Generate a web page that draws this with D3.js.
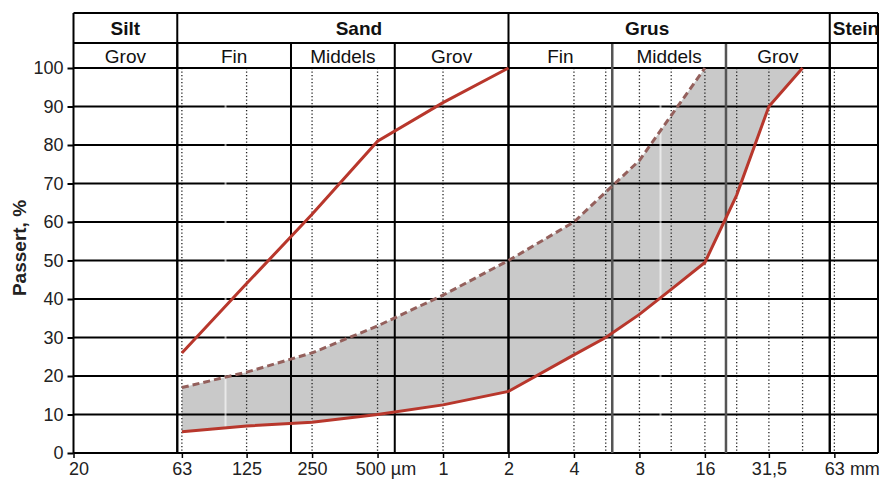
<!DOCTYPE html>
<html>
<head>
<meta charset="utf-8">
<style>
  body { margin: 0; background: #fff; font-family: "Liberation Sans", Arial, sans-serif; }
  svg { display: block; }
  .tick text { font-family: "Liberation Sans", Arial, sans-serif; }
</style>
<script src="https://cdn.jsdelivr.net/npm/d3@7"></script>
</head>
<body>
<svg id="chart"></svg>
<script>
// sieve sizes in micrometres, passing in %
const fineSizes = [63, 125, 250, 500, 1000, 2000];
const fineValues = [26, 44, 62, 81, 91, 100];

const dashSizes = [63, 125, 250, 500, 1000, 2000, 4000, 8000, 16000];
const dashValues = [17, 21, 26, 33, 41, 50, 60, 76, 100];

const coarseSizes = [63, 125, 250, 500, 1000, 2000, 4000, 5600, 8000, 11200, 16000, 22400, 31500, 45000];
const coarseValues = [5.5, 7, 8, 10, 12.5, 16, 25.5, 30, 36, 42.5, 49.5, 67, 90, 100];

const xTicks = [20, 63, 125, 250, 500, 1000, 2000, 4000, 8000, 16000, 31500, 63000];
const xLabels = ["20", "63", "125", "250", "500 \u00b5m", "1", "2", "4", "8", "16", "31,5", "63 mm"];
const yTicks = [0, 10, 20, 30, 40, 50, 60, 70, 80, 90, 100];

const sieveLines = [63, 125, 250, 500, 1000, 4000, 5600, 8000, 11200, 16000, 22400, 31500, 45000, 63000];

// soil classes (limits in micrometres)
const mainClasses = ["Silt", "Sand", "Grus", "Stein"];
const mainLimits = [20, 60, 2000, 60000, 100000];
const subClasses = ["Grov", "Fin", "Middels", "Grov", "Fin", "Middels", "Grov", ""];
const subLimits = [20, 60, 200, 600, 2000, 6000, 20000, 60000, 100000];

const width = 885, height = 483;
const svg = d3.select("#chart").attr("width", width).attr("height", height);

const x = d3.scaleLog().domain([20, 100000]).range([73.5, 878]);
const y = d3.scaleLinear().domain([0, 100]).range([453, 68]);
const headTop = 13, headMid = 43, headBot = y(100);

function pts(s, v) { return s.map((d, i) => [d, v[i]]); }
const line = d3.line().x(d => x(d[0])).y(d => y(d[1]));

// shaded band between dashed and lower curve
const band = pts(dashSizes, dashValues).concat(pts(coarseSizes, coarseValues).reverse());
svg.append("path").attr("d", line(band) + "Z").attr("fill", "#c9c9c9");

// dotted sieve lines
svg.append("g").selectAll("line").data(sieveLines).enter().append("line")
  .attr("x1", d => x(d)).attr("x2", d => x(d))
  .attr("y1", y(100)).attr("y2", y(0))
  .attr("stroke", "#222").attr("stroke-width", 1.3).attr("stroke-dasharray", "1.3,2.2");

// horizontal grid
svg.append("g").selectAll("line").data(yTicks).enter().append("line")
  .attr("x1", x(20)).attr("x2", x(100000))
  .attr("y1", d => y(d)).attr("y2", d => y(d))
  .attr("stroke", "#000").attr("stroke-width", 2);

// faint white decade lines in the original image
svg.append("g").selectAll("line").data([100, 10000]).enter().append("line")
  .attr("x1", d => x(d)).attr("x2", d => x(d))
  .attr("y1", y(100) + 1).attr("y2", y(0) - 1)
  .attr("stroke", "#fff").attr("stroke-width", 2).attr("opacity", 0.6);

// class boundaries in plot
svg.append("g").selectAll("line").data(subLimits.slice(1, -1)).enter().append("line")
  .attr("x1", d => x(d)).attr("x2", d => x(d))
  .attr("y1", headMid).attr("y2", y(0))
  .attr("stroke", d => (d === 6000 || d === 20000) ? "#555" : "#000")
  .attr("stroke-width", d => (d === 6000 || d === 20000) ? 2.5 : 2);

svg.append("g").selectAll("line").data(mainLimits).enter().append("line")
  .attr("x1", d => x(d)).attr("x2", d => x(d))
  .attr("y1", headTop).attr("y2", y(0))
  .attr("stroke", "#000").attr("stroke-width", 2);

// header rows
[headTop, headMid].forEach(v => {
  svg.append("line").attr("x1", x(20)).attr("x2", x(100000))
    .attr("y1", v).attr("y2", v).attr("stroke", "#000").attr("stroke-width", 2);
});

const mainNudge = [0, 16, -22, 0];
svg.append("g").selectAll("text").data(mainClasses).enter().append("text")
  .attr("x", (d, i) => i === 3 ? x(mainLimits[i]) + 3 : (x(mainLimits[i]) + x(mainLimits[i + 1])) / 2 + mainNudge[i])
  .attr("y", 35)
  .attr("text-anchor", (d, i) => i === 3 ? "start" : "middle")
  .attr("font-weight", "bold").attr("font-size", 19).attr("fill", "#111")
  .text(d => d);

svg.append("g").selectAll("text").data(subClasses).enter().append("text")
  .attr("x", (d, i) => (x(subLimits[i]) + x(subLimits[i + 1])) / 2)
  .attr("y", 63)
  .attr("text-anchor", "middle")
  .attr("font-size", 19).attr("fill", "#111")
  .text(d => d);

// curves
svg.append("path").attr("d", line(pts(dashSizes, dashValues)))
  .attr("fill", "none").attr("stroke", "#94605c").attr("stroke-width", 3)
  .attr("stroke-dasharray", "7,4");
svg.append("path").attr("d", line(pts(fineSizes, fineValues)))
  .attr("fill", "none").attr("stroke", "#b8372c").attr("stroke-width", 3);
svg.append("path").attr("d", line(pts(coarseSizes, coarseValues)))
  .attr("fill", "none").attr("stroke", "#b8372c").attr("stroke-width", 3);

// axes
const yAxis = svg.append("g").attr("transform", `translate(${x(20)},0)`)
  .call(d3.axisLeft(y).tickValues(yTicks).tickSize(6).tickPadding(4));
yAxis.select(".domain").remove();
yAxis.selectAll(".tick line").attr("stroke", "#000").attr("stroke-width", 2);
yAxis.selectAll(".tick text").attr("font-size", 18).attr("fill", "#222");

const xAxis = svg.append("g").attr("transform", `translate(0,${y(0)})`)
  .call(d3.axisBottom(x).tickValues(xTicks).tickFormat((d, i) => xLabels[i]).tickSize(5).tickPadding(4));
xAxis.select(".domain").remove();
xAxis.selectAll(".tick line").attr("stroke", "#000").attr("stroke-width", 1.5);
xAxis.selectAll(".tick text").attr("font-size", 18).attr("fill", "#222")
  .attr("text-anchor", (d, i) => (i === 0 || i === xTicks.length - 1) ? "start" : "middle")
  .attr("dx", (d, i) => i === 0 ? -5 : i === 4 ? 8 : i === xTicks.length - 1 ? -10 : 0);

// y title
svg.append("text")
  .attr("transform", `translate(26,248) rotate(-90)`)
  .attr("text-anchor", "middle")
  .attr("font-weight", "bold").attr("font-size", 19).attr("fill", "#222")
  .text("Passert, %");
</script>
</body>
</html>
